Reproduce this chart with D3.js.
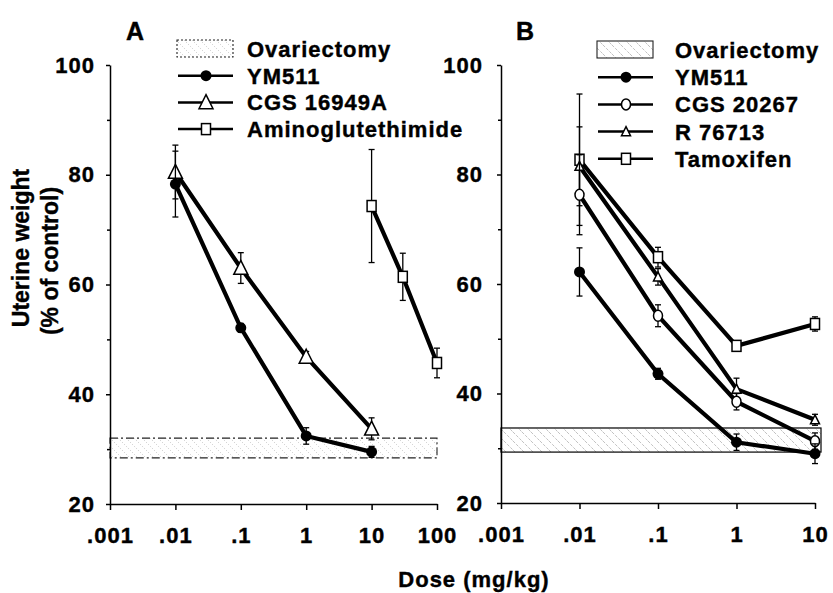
<!DOCTYPE html>
<html>
  <head>
    <meta charset="utf-8">
    <title>Uterine weight vs dose</title>
    <style>
      body { margin: 0; background: #fff; }
      text { font-family: "Liberation Sans", Arial, Helvetica, sans-serif; font-weight: bold; fill: #000; stroke: #000; stroke-width: 0.4px; }
      .axis path, .axis line { stroke: #000; stroke-width: 1.5; }
      .axis text { font-size: 22px; letter-spacing: 1px; }
    </style>
  </head>
  <body>
    <div id="container"></div>
    <script src="https://cdn.jsdelivr.net/npm/d3@7"></script>
    <script>

      // ---- DATA ----
      var yTicks = [20, 40, 60, 80, 100];
      var yMinorTicks = [30, 50, 70, 90];
      var xTicksA = [0.001, 0.01, 0.1, 1, 10, 100];
      var xLabelsA = [".001", ".01", ".1", "1", "10", "100"];
      var xTicksB = [0.001, 0.01, 0.1, 1, 10];
      var xLabelsB = [".001", ".01", ".1", "1", "10"];

      // panel A
      var doseA = [0.01, 0.1, 1, 10];
      var ym511A = [78.3, 52.1, 32.4, 29.5];
      var ym511AErr = [6, 0.8, 1.5, 1];
      var cgs16949A = [80.5, 63, 46.8, 33.7];
      var cgs16949AErr = [4.9, 2.8, 1, 2];
      var doseAmino = [10, 30, 100];
      var amino = [74.3, 61.4, 45.7];
      var aminoErr = [10.3, 4.3, 2.7];
      var ovxA = [28.4, 32.0];

      // panel B
      var doseB = [0.01, 0.1, 1, 10];
      var ym511B = [62.2, 43.6, 31.1, 29.0];
      var ym511BErr = [4.4, 1, 1.5, 1.8];
      var cgs20267 = [76.3, 54.2, 38.5, 31.3];
      var cgs20267Err = [7.3, 2, 1.5, 1.5];
      var r76713 = [81.5, 61.3, 40.8, 35.2];
      var r76713Err = [7.2, 1.5, 2, 1];
      var tamoxifen = [82.7, 64.9, 48.7, 52.7];
      var tamoxifenErr = [12, 1.8, 0.7, 1.3];
      var ovxB = [29.3, 33.7];

      var legendA = ["Ovariectomy", "YM511", "CGS 16949A", "Aminoglutethimide"];
      var legendB = ["Ovariectomy", "YM511", "CGS 20267", "R 76713", "Tamoxifen"];

      // ---- SVG ----
      var svg = d3.select("#container")
        .append("svg")
        .attr("width", 833)
        .attr("height", 593);

      var defs = svg.append("defs");
      // faint dotted hatch (panel A)
      var pA = defs.append("pattern")
        .attr("id", "hatchA")
        .attr("patternUnits", "userSpaceOnUse")
        .attr("width", 8).attr("height", 8);
      pA.append("path")
        .attr("d", "M0,0 L8,8 M-2,6 L2,10 M6,-2 L10,2")
        .attr("stroke", "#aaa")
        .attr("stroke-width", 0.7)
        .attr("stroke-dasharray", "1,2");
      // diagonal hatch (panel B)
      var pB = defs.append("pattern")
        .attr("id", "hatchB")
        .attr("patternUnits", "userSpaceOnUse")
        .attr("width", 9).attr("height", 9);
      pB.append("path")
        .attr("d", "M0,0 L9,9 M-3,6 L3,12 M6,-3 L12,3")
        .attr("stroke", "#999")
        .attr("stroke-width", 0.6)
        .attr("stroke-dasharray", "3,1.5");

      // ---- SCALES ----
      var xA = d3.scaleLog().domain([0.001, 100]).range([110, 437]);
      var yA = d3.scaleLinear().domain([20, 100]).range([504, 65]);
      var xB = d3.scaleLog().domain([0.001, 10]).range([501, 815]);
      var yB = d3.scaleLinear().domain([20, 100]).range([503, 65]);

      // ---- HELPERS ----
      function drawAxes(x, y, ticks, labels, ypad) {
        svg.append("g")
          .attr("class", "axis")
          .attr("transform", "translate(0," + y(20) + ")")
          .call(d3.axisBottom(x).tickValues(ticks)
            .tickFormat(function (d, i) { return labels[i]; })
            .tickSize(6).tickPadding(17).tickSizeOuter(0));
        svg.append("g")
          .attr("class", "axis")
          .attr("transform", "translate(" + x(0.001) + ",0)")
          .call(d3.axisLeft(y).tickValues(yTicks)
            .tickSize(4).tickPadding(ypad).tickSizeOuter(0));
        svg.append("g")
          .attr("class", "axis")
          .attr("transform", "translate(" + x(0.001) + ",0)")
          .call(d3.axisLeft(y).tickValues(yMinorTicks)
            .tickSize(3).tickFormat("").tickSizeOuter(0))
          .select(".domain").remove();
      }

      function marker(g, type, cx, cy, big) {
        if (type === "dot") {
          g.append("circle").attr("cx", cx).attr("cy", cy).attr("r", 5.5)
            .attr("fill", "#000");
        } else if (type === "circle") {
          g.append("ellipse").attr("cx", cx).attr("cy", cy).attr("rx", 4.5).attr("ry", 5.5)
            .attr("fill", "#fff").attr("stroke", "#000").attr("stroke-width", 1.5);
        } else if (type === "tri") {
          var s = big ? 14 : 9;
          g.append("path")
            .attr("d", "M" + cx + "," + (cy - s * 0.55) + " L" + (cx + s / 2) + "," + (cy + s * 0.45) +
              " L" + (cx - s / 2) + "," + (cy + s * 0.45) + "Z")
            .attr("fill", "#fff").attr("stroke", "#000").attr("stroke-width", 1.5);
        } else if (type === "sq") {
          g.append("rect").attr("x", cx - 4.5).attr("y", cy - 5.5)
            .attr("width", 9).attr("height", 11)
            .attr("fill", "#fff").attr("stroke", "#000").attr("stroke-width", 1.5);
        }
      }

      function series(x, y, doses, vals, errs, type, big) {
        var g = svg.append("g");
        var pts = doses.map(function (d, i) { return { d: d, v: vals[i], e: errs[i] }; });
        // error bars
        pts.forEach(function (p) {
          var px = x(p.d);
          g.append("line").attr("x1", px).attr("x2", px)
            .attr("y1", y(p.v - p.e)).attr("y2", y(p.v + p.e))
            .attr("stroke", "#000").attr("stroke-width", 1.3);
          [p.v - p.e, p.v + p.e].forEach(function (v) {
            g.append("line").attr("x1", px - 3).attr("x2", px + 3)
              .attr("y1", y(v)).attr("y2", y(v))
              .attr("stroke", "#000").attr("stroke-width", 1.3);
          });
        });
        // connecting line
        g.append("path")
          .datum(pts)
          .attr("fill", "none")
          .attr("stroke", "#000")
          .attr("stroke-width", 4.2)
          .attr("d", d3.line().x(function (p) { return x(p.d); }).y(function (p) { return y(p.v); }));
        pts.forEach(function (p) { marker(g, type, x(p.d), y(p.v), big); });
      }

      // ---- PANEL A ----
      svg.append("rect")
        .attr("x", xA(0.001)).attr("y", yA(ovxA[1]))
        .attr("width", xA(100) - xA(0.001)).attr("height", yA(ovxA[0]) - yA(ovxA[1]))
        .attr("fill", "url(#hatchA)")
        .attr("stroke", "#222").attr("stroke-width", 1.1)
        .attr("stroke-dasharray", "8,3,2,3");
      drawAxes(xA, yA, xTicksA, xLabelsA, 11);
      series(xA, yA, doseA, cgs16949A, cgs16949AErr, "tri", true);
      series(xA, yA, doseA, ym511A, ym511AErr, "dot", true);
      series(xA, yA, doseAmino, amino, aminoErr, "sq", true);

      // ---- PANEL B ----
      svg.append("rect")
        .attr("x", xB(0.001)).attr("y", yB(ovxB[1]))
        .attr("width", xB(10) - xB(0.001) + 6).attr("height", yB(ovxB[0]) - yB(ovxB[1]))
        .attr("fill", "url(#hatchB)")
        .attr("stroke", "#000").attr("stroke-width", 1.2);
      drawAxes(xB, yB, xTicksB, xLabelsB, 14);
      series(xB, yB, doseB, tamoxifen, tamoxifenErr, "sq", false);
      series(xB, yB, doseB, r76713, r76713Err, "tri", false);
      series(xB, yB, doseB, cgs20267, cgs20267Err, "circle", false);
      series(xB, yB, doseB, ym511B, ym511BErr, "dot", false);

      // ---- LEGENDS ----
      function legend(x0, y0, step, textOff, names, types, swatchFill, swatchDash, big) {
        var g = svg.append("g");
        names.forEach(function (name, i) {
          var by = y0 + i * step;
          if (i === 0) {
            g.append("rect").attr("x", x0).attr("y", by - 17)
              .attr("width", 56).attr("height", 17)
              .attr("fill", swatchFill).attr("stroke", "#222").attr("stroke-width", 1.1)
              .attr("stroke-dasharray", swatchDash);
          } else {
            g.append("line").attr("x1", x0 + 1).attr("x2", x0 + 56)
              .attr("y1", by - 8).attr("y2", by - 8)
              .attr("stroke", "#000").attr("stroke-width", 2.5);
            marker(g, types[i], x0 + 29, by - 8, big);
          }
          g.append("text").attr("x", x0 + textOff).attr("y", by)
            .style("font-size", "22px").style("letter-spacing", "1px")
            .text(name);
        });
      }
      legend(177, 57, 26.7, 70, legendA, [null, "dot", "tri", "sq"], "url(#hatchA)", "2,2", true);
      legend(597, 58, 27.2, 78, legendB, [null, "dot", "circle", "tri", "sq"], "url(#hatchB)", null, false);

      // ---- PANEL LETTERS & AXIS TITLES ----
      svg.append("text").attr("x", 126).attr("y", 40).style("font-size", "25px").text("A");
      svg.append("text").attr("x", 516).attr("y", 40).style("font-size", "25px").text("B");

      svg.append("text")
        .attr("transform", "translate(29,248) rotate(-90)")
        .attr("text-anchor", "middle")
        .style("font-size", "23px")
        .text("Uterine weight");
      svg.append("text")
        .attr("transform", "translate(58,261) rotate(-90)")
        .attr("text-anchor", "middle")
        .style("font-size", "23px")
        .text("(% of control)");
      svg.append("text")
        .attr("x", 474).attr("y", 587)
        .attr("text-anchor", "middle")
        .style("font-size", "22px").style("letter-spacing", "1px")
        .text("Dose (mg/kg)");

    </script>
  </body>
</html>
